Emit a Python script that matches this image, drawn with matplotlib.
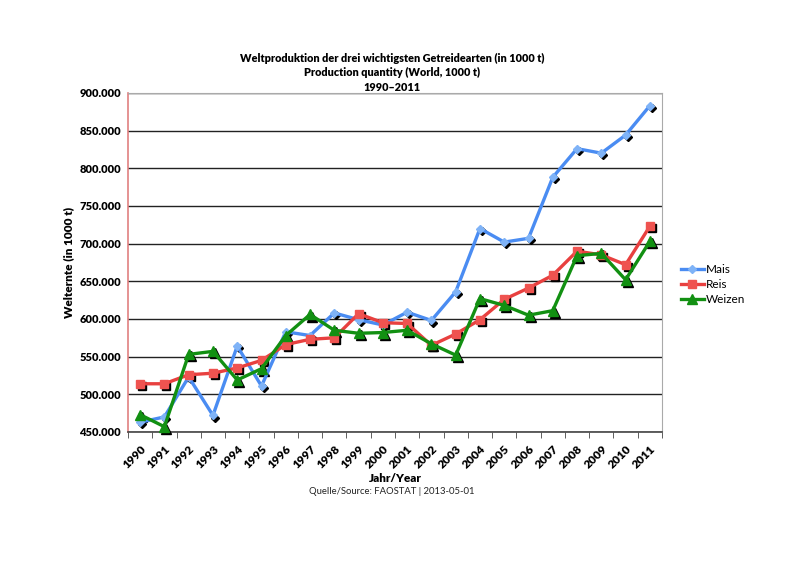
import numpy as np
import matplotlib.pyplot as plt
from matplotlib.ticker import FuncFormatter, FixedLocator
from matplotlib.transforms import offset_copy

plt.rcParams['font.family'] = ['Lato', 'DejaVu Sans']

# --- data (1000 t) ---
years = [str(y) for y in range(1990, 2012)]
mais = [463, 470, 523, 472, 564, 511, 583, 578, 608, 599, 592, 609,
        598, 636, 720, 702, 707, 788, 826, 820, 844, 883]
reis = [514, 514, 526, 528, 535, 545, 566, 573, 575, 607, 595, 594,
        565, 580, 599, 626, 641, 658, 690, 685, 672, 723]
weizen = [473, 457, 553, 557, 519, 534, 578, 606, 585, 581, 582, 585,
          567, 552, 627, 618, 605, 611, 684, 687, 652, 703]
mais = np.array(mais) * 1000
reis = np.array(reis) * 1000
weizen = np.array(weizen) * 1000

series = [
    ("Mais", mais, "#4a8cf2", "#7fb3f7", "D", 4.5),
    ("Reis", reis, "#e8403f", "#ef5350", "s", 6),
    ("Weizen", weizen, "#129012", "#129012", "^", 6.5),
]

fig = plt.figure(figsize=(8, 5.65), dpi=100)
ax = fig.add_axes([0.16, 0.2354, 0.6675, 0.6002])

x = np.arange(len(years))
shadow = offset_copy(ax.transData, fig=fig, x=1.5, y=-1.5, units='points')

for name, vals, col, mcol, mk, ms in series:
    ax.plot(x, vals, linestyle='none', marker=mk, markersize=ms,
            color='black', transform=shadow, zorder=3, clip_on=False)
    ax.plot(x, vals, color=col, lw=2.4, marker=mk, markersize=ms,
            markerfacecolor=mcol, markeredgecolor=mcol, label=name,
            zorder=4, clip_on=False)

ax.set_xlim(-0.5, len(years) - 0.5)
ax.set_ylim(450000, 900000)
ax.set_yticks(np.arange(450000, 900001, 50000))
ax.yaxis.set_major_formatter(FuncFormatter(lambda v, p: f"{int(v):,}".replace(",", ".")))
ax.grid(axis='y', color='#222222', lw=1.0)
ax.set_axisbelow(True)

ax.set_xticks(x)
ax.set_xticklabels(years, rotation=45, ha='right', rotation_mode='anchor',
                   fontsize=8.5, fontweight='heavy')
ax.xaxis.set_minor_locator(FixedLocator(np.arange(-0.5, len(years), 1)))
ax.tick_params(axis='x', which='major', length=0, pad=8)
ax.tick_params(axis='x', which='minor', length=4, color='#444444')
ax.tick_params(axis='y', length=0, labelsize=8, pad=5)
for lab in ax.get_yticklabels():
    lab.set_fontweight('heavy')

ax.spines['left'].set_color('#e08080')
ax.spines['left'].set_linewidth(1.2)
ax.spines['bottom'].set_color('#444444')
ax.spines['bottom'].set_linewidth(1.2)
ax.spines['top'].set_color('#aaaaaa')
ax.spines['right'].set_color('#aaaaaa')

ax.set_ylabel("Welternte (in 1000 t)", fontsize=8.5, fontweight='heavy', labelpad=4)
ax.set_xlabel("Jahr/Year", fontsize=8.5, fontweight='heavy', labelpad=2)

fig.text(0.49, 0.871, "Weltproduktion der drei wichtigsten Getreidearten (in 1000 t)\n"
         "Production quantity (World, 1000 t)\n1990–2011",
         ha='center', va='center', fontsize=7.8, fontweight='heavy', linespacing=1.4)
fig.text(0.49, 0.13, "Quelle/Source: FAOSTAT | 2013-05-01", ha='center', va='center',
         fontsize=6.8, color='#222222')

ax.legend(loc='center left', bbox_to_anchor=(1.015, 0.434), frameon=False,
          fontsize=8.5, handlelength=2.0, handletextpad=0.1, labelspacing=0.35)

fig.savefig("out.png", dpi=100)
